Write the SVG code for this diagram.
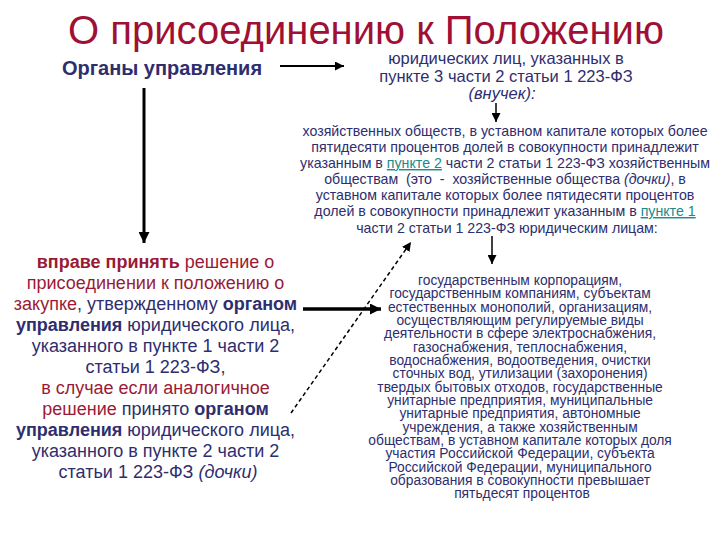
<svg xmlns="http://www.w3.org/2000/svg" width="720" height="540" viewBox="0 0 720 540">
<defs>
<marker id="ah" viewBox="0 0 10 10" refX="10" refY="5" markerWidth="9" markerHeight="9" markerUnits="userSpaceOnUse" orient="auto"><path d="M0,0 L10,5 L0,10 z" fill="#000"/></marker>
<marker id="ahb" viewBox="0 0 10 10" refX="10" refY="5" markerWidth="11" markerHeight="11" markerUnits="userSpaceOnUse" orient="auto"><path d="M0,0 L10,5 L0,10 z" fill="#000"/></marker>
<style>
text{font-family:"Liberation Sans",Arial,sans-serif;}
.title{font-size:40px;fill:#A01035;}
.nav{fill:#2E2E6E;}
.red{fill:#9A1A35;}
.b{font-weight:bold;}
.i{font-style:italic;}
.lnk{fill:#1A8A8A;text-decoration:underline;}
.p2{font-size:14.2px;fill:#2E2E6E;}
.p3{font-size:13.8px;fill:#2E2E6E;}
.p1{font-size:18px;}
.c{stroke:#000;fill:none;}
</style>
</defs>
<rect width="720" height="540" fill="#fff"/>
<g id="title"><text class="title" x="366" y="44" text-anchor="middle">О присоединению к Положению</text></g>
<g id="organy"><text class="nav b" x="162" y="75" text-anchor="middle" font-size="20">Органы управления</text></g>
<g id="vnuchek">
<text class="nav" text-anchor="middle" font-size="16.5"><tspan x="506" y="64">юридических лиц, указанных в</tspan><tspan x="506" y="81.5">пункте 3 части 2 статьи 1 223-ФЗ</tspan><tspan x="502" y="99" class="i">(внучек):</tspan></text>
</g>
<g id="obshchestva">
<text class="p2" text-anchor="middle">
<tspan x="507" y="136">хозяйственных обществ, в уставном капитале которых более</tspan>
<tspan x="507" y="152">пятидесяти процентов долей в совокупности принадлежит</tspan>
<tspan x="507" y="168">указанным в <tspan class="lnk">пункте 2</tspan> части 2 статьи 1 223-ФЗ хозяйственным</tspan>
<tspan x="507" y="184">обществам&#160; (это&#160; -&#160; хозяйственные общества <tspan class="i">(дочки)</tspan>, в</tspan>
<tspan x="507" y="200">уставном капитале которых более пятидесяти процентов</tspan>
<tspan x="507" y="216">долей в совокупности принадлежит указанным в <tspan class="lnk">пункте 1</tspan></tspan>
<tspan x="507" y="233">части 2 статьи 1 223-ФЗ юридическим лицам:</tspan>
</text>
</g>
<g id="vprave">
<text class="p1 nav" text-anchor="middle">
<tspan x="158" y="268" class="red"><tspan class="b">вправе принять</tspan> решение о</tspan>
<tspan x="158" y="289" class="red">присоединении к положению о</tspan>
<tspan x="158" y="310"><tspan class="red">закупке</tspan>, утвержденному <tspan class="b">органом</tspan></tspan>
<tspan x="158" y="331"><tspan class="b">управления</tspan> юридического лица,</tspan>
<tspan x="158" y="352">указанного в пункте 1 части 2</tspan>
<tspan x="158" y="373">статьи 1 223-ФЗ,</tspan>
<tspan x="158" y="394" class="red">в случае если аналогичное</tspan>
<tspan x="158" y="415"><tspan class="red">решение</tspan> принято <tspan class="b">органом</tspan></tspan>
<tspan x="158" y="436"><tspan class="b">управления</tspan> юридического лица,</tspan>
<tspan x="158" y="457">указанного в пункте 2 части 2</tspan>
<tspan x="158" y="478">статьи 1 223-ФЗ <tspan class="i">(дочки)</tspan></tspan>
</text>
</g>
<g id="goskorp">
<text class="p3" text-anchor="middle">
<tspan x="522" y="285">государственным корпорациям,</tspan>
<tspan x="522" y="298.3">государственным компаниям, субъектам</tspan>
<tspan x="522" y="311.6">естественных монополий, организациям,</tspan>
<tspan x="522" y="325">осуществляющим регулируемые виды</tspan>
<tspan x="522" y="338.3">деятельности в сфере электроснабжения,</tspan>
<tspan x="522" y="351.6">газоснабжения, теплоснабжения,</tspan>
<tspan x="522" y="365">водоснабжения, водоотведения, очистки</tspan>
<tspan x="522" y="378.3">сточных вод, утилизации (захоронения)</tspan>
<tspan x="522" y="391.6">твердых бытовых отходов, государственные</tspan>
<tspan x="522" y="405">унитарные предприятия, муниципальные</tspan>
<tspan x="522" y="418.3">унитарные предприятия, автономные</tspan>
<tspan x="522" y="431.6">учреждения, а также хозяйственным</tspan>
<tspan x="522" y="445">обществам, в уставном капитале которых доля</tspan>
<tspan x="522" y="458.3">участия Российской Федерации, субъекта</tspan>
<tspan x="522" y="471.6">Российской Федерации, муниципального</tspan>
<tspan x="522" y="485">образования в совокупности превышает</tspan>
<tspan x="522" y="498.3">пятьдесят процентов</tspan>
</text>
</g>
<g id="connectors">
<line class="c" x1="280" y1="66" x2="344" y2="66" stroke-width="2" marker-end="url(#ah)"/>
<line class="c" x1="144" y1="88" x2="144" y2="243" stroke-width="3" marker-end="url(#ahb)"/>
<line class="c" x1="496" y1="103" x2="496" y2="122" stroke-width="1.5" marker-end="url(#ah)"/>
<line class="c" x1="492" y1="236" x2="492" y2="264" stroke-width="1.5" marker-end="url(#ah)"/>
<line class="c" x1="303" y1="309" x2="381" y2="309" stroke-width="3.5" marker-end="url(#ahb)"/>
<line class="c" x1="291" y1="413" x2="411" y2="242" stroke-width="1.5" stroke-dasharray="4,3" marker-end="url(#ah)"/>
</g>
</svg>
